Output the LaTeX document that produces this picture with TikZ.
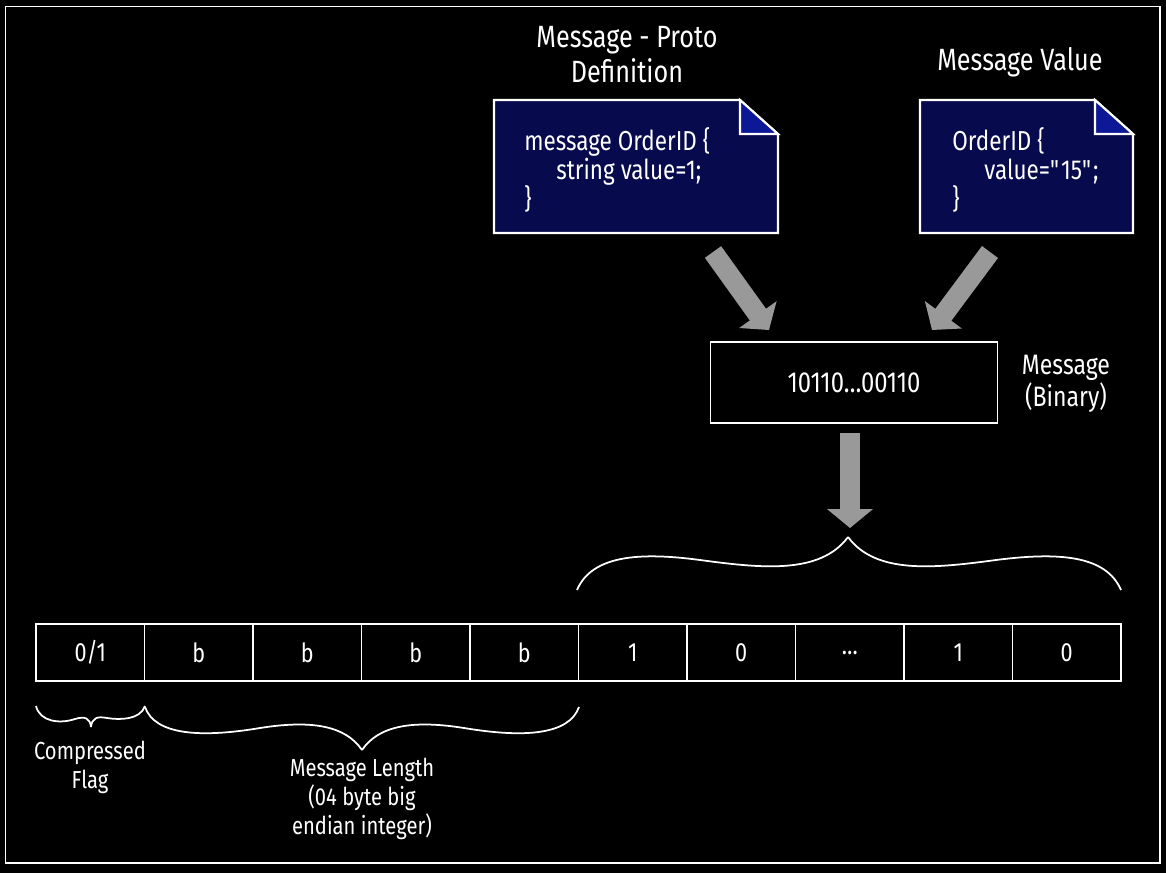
\documentclass[tikz,border=0pt]{standalone}
\usepackage{fontspec}
\setmainfont[FakeStretch=0.82]{Fira Sans}
\usepackage{tikz}
\usetikzlibrary{arrows.meta}
\definecolor{docnavy}{RGB}{8,10,78}
\definecolor{docfold}{RGB}{12,24,150}
\definecolor{arrowgray}{RGB}{153,153,153}

\tikzset{
    cell/.style={draw=white,line width=0.8pt,minimum width=2.17cm,minimum height=1.14cm,inner sep=0pt,text=white,font=\fontsize{15}{18}\selectfont},
    fatarrow/.style={draw=arrowgray,line width=0.4cm,-{Triangle[length=0.38cm,width=0.9cm]}},
    bracket/.style={draw=white,line width=1pt},
    lbl/.style={text=white,align=center,inner sep=0pt}
}

\begin{document}
\begin{tikzpicture}[x=0.02cm,y=-0.02cm]
    
    % Latar hitam dan bingkai putih
    \fill[black] (0,0) rectangle (1166,873);
    \draw[white,line width=1.1pt] (5.5,6.5) rectangle (1160,863);
    
    % Judul kedua dokumen (anchor base = baris terakhir)
    \node[lbl,anchor=base,font=\fontsize{17.5}{19.8}\selectfont] (titleDef) at (627,82) {Message - Proto\\Definition};
    \node[lbl,anchor=base,font=\fontsize{17.5}{19.8}\selectfont] (titleVal) at (1020,70) {Message Value};
    
    % Dokumen definisi proto (sudut kanan atas terlipat)
    \filldraw[white,fill=docnavy,line width=1.2pt] (494,100)--(740,100)--(778,134)--(778,233)--(494,233)--cycle;
    \filldraw[white,fill=docfold,line width=1.2pt] (740,100)--(740,134)--(778,134)--cycle;
    \node[lbl,align=left,anchor=base west,font=\fontsize{15.6}{16.4}\selectfont] (defText) at (524,208) {message OrderID \{\\\hspace*{0.64cm}string value=1;\\\}};
    
    % Dokumen nilai pesan
    \filldraw[white,fill=docnavy,line width=1.2pt] (920,100)--(1095,100)--(1133,134)--(1133,233)--(920,233)--cycle;
    \filldraw[white,fill=docfold,line width=1.2pt] (1095,100)--(1095,134)--(1133,134)--cycle;
    \node[lbl,align=left,anchor=base west,font=\fontsize{15.6}{16.4}\selectfont] (valText) at (952,208) {OrderID \{\\\hspace*{0.64cm}value=\textquotedbl 15\textquotedbl;\\\}};
    
    % Kotak pesan biner
    \node[draw=white,line width=0.9pt,minimum width=5.74cm,minimum height=1.62cm,text=white,font=\fontsize{16.5}{20}\selectfont] (msg) at (854,382.5) {10110…00110};
    \node[lbl,anchor=base,font=\fontsize{16}{16.4}\selectfont] (msgLbl) at (1066,406) {Message\\(Binary)};
    
    % Panah abu-abu tebal
    \coordinate (defTail) at (713,252);
    \coordinate (defTip) at (769,330);
    \coordinate (valTail) at (990,252);
    \coordinate (valTip) at (932,330);
    \coordinate (msgTail) at (850,433);
    \coordinate (msgTip) at (850,528);
    \draw[fatarrow] (defTail)--(defTip);
    \draw[fatarrow] (valTail)--(valTip);
    \draw[fatarrow] (msgTail)--(msgTip);
    
    % Deretan sel frame
    \node[cell] (c1) at (90.25,652.5) {0/1};
    \node[cell] (c2) at (198.75,652.5) {b};
    \node[cell] (c3) at (307.25,652.5) {b};
    \node[cell] (c4) at (415.75,652.5) {b};
    \node[cell] (c5) at (524.25,652.5) {b};
    \node[cell] (c6) at (632.75,652.5) {1};
    \node[cell] (c7) at (741.25,652.5) {0};
    \node[cell] (c8) at (849.75,652.5) {…};
    \node[cell] (c9) at (958.25,652.5) {1};
    \node[cell] (c10) at (1066.75,652.5) {0};
    
    % Kurung kurawal di atas bagian pesan
    \draw[bracket] (577,590) .. controls (592,555) and (640,552) .. (700,560) .. controls (760,568) and (820,575) .. (848,537);
    \draw[bracket] (1121,590) .. controls (1106,555) and (1058,552) .. (996,560) .. controls (936,568) and (876,575) .. (848,537);
    
    % Kurung kurawal di bawah flag dan panjang pesan
    \draw[bracket] (36,706) .. controls (40,722) and (60,724) .. (75,719) .. controls (85,716) and (90,718) .. (91,727);
    \draw[bracket] (145,706) .. controls (140,720) and (120,720) .. (107,718) .. controls (97,716) and (92,718) .. (91,727);
    \draw[bracket] (145,707) .. controls (155,735) and (200,738) .. (260,728) .. controls (310,720) and (345,725) .. (362,750);
    \draw[bracket] (579,707) .. controls (569,735) and (524,738) .. (464,728) .. controls (414,720) and (379,725) .. (362,750);
    
    % Keterangan di bawah
    \node[lbl,anchor=base,font=\fontsize{14}{16.4}\selectfont] (flagLbl) at (90,788) {Compressed\\Flag};
    \node[lbl,anchor=base,font=\fontsize{14}{16.4}\selectfont] (lenLbl) at (362,834) {Message Length\\(04 byte big\\endian integer)};
    
\end{tikzpicture}
\end{document}
